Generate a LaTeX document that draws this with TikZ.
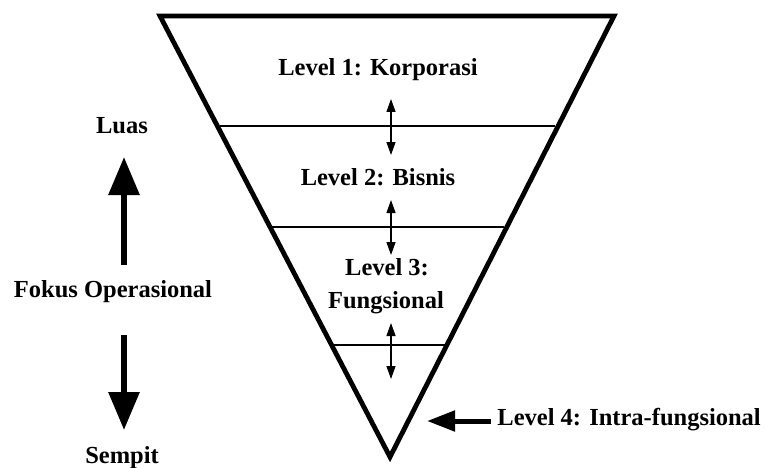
\documentclass[tikz,border=0pt]{standalone}
\usepackage{fontspec}
\setmainfont{Liberation Serif}
\usetikzlibrary{arrows.meta}
\begin{document}
\begin{tikzpicture}[x=1pt,y=-1pt,
  lbl/.style={font=\fontsize{24.5}{28}\selectfont\bfseries, inner sep=0pt, anchor=base},
  border/.style={line width=4.8pt, line join=miter},
  divider/.style={line width=2.2pt},
  small/.style={line width=1.3pt, {Triangle[width=9pt,length=13pt]}-{Triangle[width=9pt,length=13pt]}},
  big/.style={line width=6pt, -{Triangle[width=30pt,length=38pt]}},
  mid/.style={line width=5pt, -{Triangle[width=20pt,length=28pt]}}]
\useasboundingbox (0,0) rectangle (765,468);
% triangle
\coordinate (tl) at (160,16);
\coordinate (tr) at (614,16);
\coordinate (ap) at (390,457);
\draw[border] (tl) -- (tr) -- (ap) -- cycle;
% dividers
\coordinate (d1l) at (220,126); \coordinate (d1r) at (555,126);
\coordinate (d2l) at (272,227); \coordinate (d2r) at (504,227);
\coordinate (d3l) at (333,345); \coordinate (d3r) at (446,345);
\draw[divider] (d1l) -- (d1r);
\draw[divider] (d2l) -- (d2r);
\draw[divider] (d3l) -- (d3r);
% small double arrows
\coordinate (a1t) at (391,99);  \coordinate (a1b) at (391,155);
\coordinate (a2t) at (391,200); \coordinate (a2b) at (391,255);
\coordinate (a3t) at (391,323); \coordinate (a3b) at (391,379);
\draw[small] (a1t) -- (a1b);
\draw[small] (a2t) -- (a2b);
\draw[small] (a3t) -- (a3b);
% level labels
\node[lbl] (l1) at (378,76) {Level 1: Korporasi};
\node[lbl] (l2) at (378,185) {Level 2: Bisnis};
\node[lbl] (l3a) at (387,275) {Level 3:};
\node[lbl] (l3b) at (386,308) {Fungsional};
\node[lbl, anchor=base east] (l4) at (761,425) {Level 4: Intra-fungsional};
\coordinate (l4tip) at (427,421);
\draw[mid] (l4.west |- l4tip) ++(-6,0) coordinate (l4s) (l4s) -- (l4tip);
% left side
\node[lbl] (luas) at (122,133) {Luas};
\node[lbl] (fokus) at (113,297) {Fokus Operasional};
\node[lbl] (sempit) at (122,463) {Sempit};
\coordinate (upb) at (124,265); \coordinate (upt) at (124,157);
\coordinate (dnb) at (124,335); \coordinate (dnt) at (124,430);
\draw[big] (upb) -- (upt);
\draw[big] (dnb) -- (dnt);
\end{tikzpicture}
\end{document}
